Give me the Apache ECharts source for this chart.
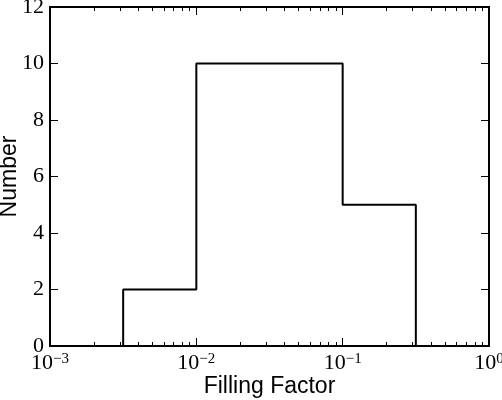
<!DOCTYPE html>
<html lang="en">
<head>
    <meta charset="UTF-8">
    <title>Filling Factor</title>
    <script src="https://cdn.jsdelivr.net/npm/echarts@6/dist/echarts.min.js"></script>
    <style>
        html, body { margin: 0; padding: 0; background: #fff; }
        #main { width: 502px; height: 400px; }
    </style>
</head>
<body>
<div id="main"></div>
<script>
    // histogram: half-decade bin edges and counts
    var binEdges = [0.0031623, 0.01, 0.031623, 0.1, 0.31623];
    var binCounts = [2, 10, 10, 5];
    var xMajorTicks = [0.001, 0.01, 0.1, 1];
    var xMinorTicks = [0.002, 0.003, 0.004, 0.005, 0.006, 0.007, 0.008, 0.009,
        0.02, 0.03, 0.04, 0.05, 0.06, 0.07, 0.08, 0.09,
        0.2, 0.3, 0.4, 0.5, 0.6, 0.7, 0.8, 0.9];
    var yTicks = [0, 2, 4, 6, 8, 10, 12];

    // step outline like matplotlib histtype='step'
    var stepData = [[binEdges[0], 0]];
    for (var i = 0; i < binCounts.length; i++) {
        stepData.push([binEdges[i], binCounts[i]]);
        stepData.push([binEdges[i + 1], binCounts[i]]);
    }
    stepData.push([binEdges[binEdges.length - 1], 0]);

    var serif = 'Liberation Serif';
    function powLabel(v) {
        var e = Math.round(Math.log10(v));
        return '{b|10}{e|' + (e < 0 ? '\u2212' + (-e) : e) + '}';
    }

    function xAx(pos, ticks, len, labels) {
        return {
            type: 'log', logBase: 10, min: 0.001, max: 1, position: pos,
            gridIndex: 0,
            axisLine: {show: false},
            splitLine: {show: false},
            minorTick: {show: false},
            axisTick: {show: true, inside: true, length: len, customValues: ticks,
                lineStyle: {color: '#000', width: 1}},
            axisLabel: labels ? {
                show: true, margin: 6, customValues: xMajorTicks, formatter: powLabel,
                rich: {
                    b: {fontFamily: serif, fontSize: 22, color: '#000', lineHeight: 22},
                    e: {fontFamily: serif, fontSize: 15, color: '#000', verticalAlign: 'top', lineHeight: 12}
                }
            } : {show: false}
        };
    }

    var xAxes = [
        xAx('bottom', xMajorTicks, 8, true),
        xAx('bottom', xMinorTicks, 4, false),
        xAx('top', xMajorTicks, 8, false),
        xAx('top', xMinorTicks, 4, false)
    ];
    xAxes[0].name = 'Filling Factor';
    xAxes[0].nameLocation = 'middle';
    xAxes[0].nameGap = 29;
    xAxes[0].nameMoveOverlap = false;
    xAxes[0].nameTextStyle = {fontFamily: 'Liberation Sans', fontSize: 23, color: '#000'};

    function yAx(pos, labels) {
        return {
            type: 'value', min: 0, max: 12, interval: 2, position: pos,
            axisLine: {show: false},
            splitLine: {show: false},
            axisTick: {show: true, inside: true, length: 8, lineStyle: {color: '#000', width: 1}},
            axisLabel: labels ? {show: true, margin: 6, fontFamily: serif, fontSize: 22, color: '#000'} : {show: false}
        };
    }
    var yAxes = [yAx('left', true), yAx('right', false)];
    yAxes[0].name = 'Number';
    yAxes[0].nameLocation = 'middle';
    yAxes[0].nameGap = 29;
    yAxes[0].nameMoveOverlap = false;
    yAxes[0].nameTextStyle = {fontFamily: 'Liberation Sans', fontSize: 23, color: '#000'};

    var chart = echarts.init(document.getElementById('main'));
    chart.setOption({
        animation: false,
        backgroundColor: '#fff',
        grid: {left: 50, right: 13, top: 7, bottom: 54, outerBoundsMode: 'none', containLabel: false,
            show: true, borderColor: '#000', borderWidth: 2},
        xAxis: xAxes,
        yAxis: yAxes,
        series: [{
            type: 'line',
            xAxisIndex: 0,
            yAxisIndex: 0,
            data: stepData,
            symbol: 'none',
            lineStyle: {color: '#000', width: 2},
            z: 3
        }]
    });
</script>
</body>
</html>
